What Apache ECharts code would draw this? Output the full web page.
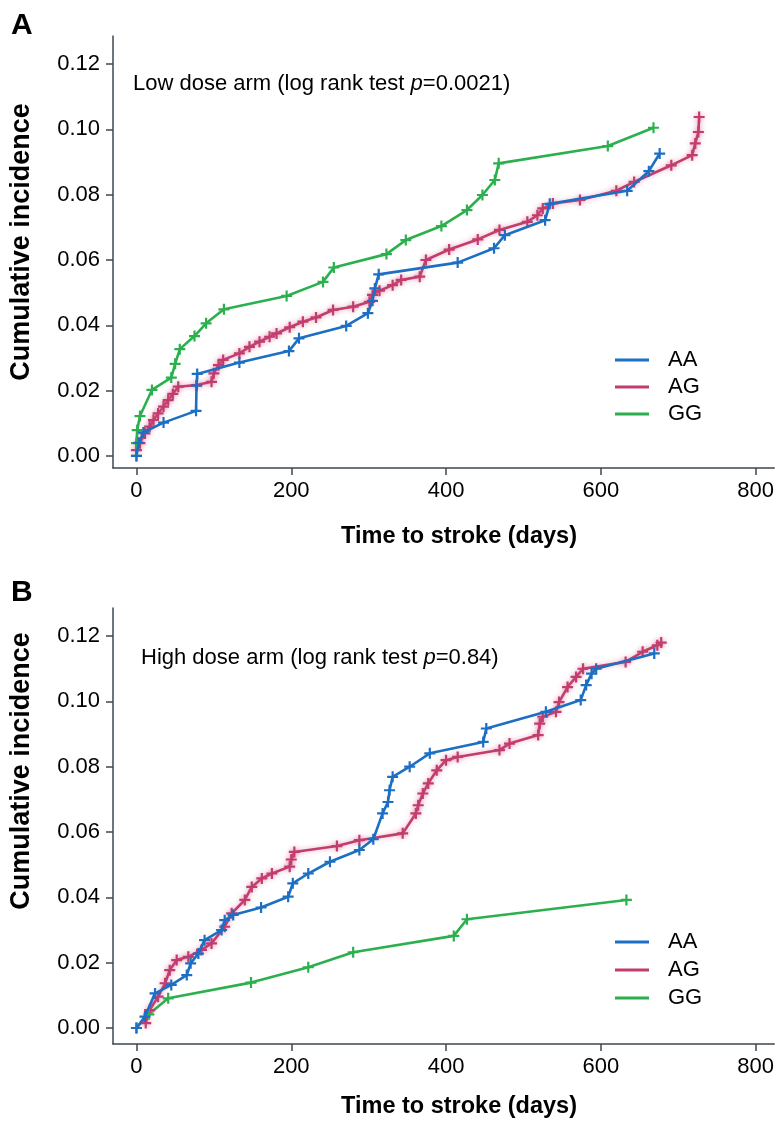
<!DOCTYPE html>
<html>
<head>
<meta charset="utf-8">
<script src="https://cdn.jsdelivr.net/npm/echarts@6.0.0/dist/echarts.min.js"></script>
<style>
html,body{margin:0;padding:0;background:#fff;}
#chart{width:777px;height:1121px;}
</style>
</head>
<body>
<div id="chart"></div>
<script>
// ---- Data (days, cumulative incidence) ----
const seriesNames = ['AA', 'AG', 'GG'];
const xTicks = [0, 200, 400, 600, 800];
const yTicks = [0, 0.02, 0.04, 0.06, 0.08, 0.10, 0.12];

const lowAA = [[0,0],[3,0.004],[9,0.0072],[35,0.0102],[77,0.0138],[77.6,0.0215],[78.5,0.0251],[133,0.0286],[197,0.0321],[210,0.036],[271,0.0398],[299,0.0437],[305,0.0475],[308,0.0513],[313,0.0556],[415,0.0592],[462,0.0636],[476,0.0676],[528,0.0722],[534,0.0772],[634,0.0812],[662,0.0872],[676,0.0926]];
const lowAG = [[0,0.0018],[4.5,0.0039],[11,0.0069],[17,0.009],[22,0.011],[28,0.013],[35,0.0151],[41,0.0171],[47,0.019],[54,0.0212],[78,0.0217],[97,0.0227],[100,0.0253],[106,0.0278],[112,0.0294],[133,0.0314],[146,0.0334],[159,0.035],[172,0.0365],[181,0.0375],[198,0.0394],[215,0.0411],[232,0.0424],[254,0.0447],[280,0.0457],[301,0.0472],[305,0.0493],[314,0.0506],[331,0.0523],[342,0.0539],[366,0.0549],[374,0.06],[404,0.0632],[441,0.0663],[469,0.0692],[505,0.0717],[518,0.0737],[525,0.0758],[538,0.0773],[573,0.0784],[620,0.0812],[643,0.0839],[691,0.089],[718,0.0921],[722,0.0957],[726,0.0992],[727,0.1038]];
const lowGG = [[0,0],[0,0.0039],[1,0.0079],[4.5,0.0122],[20,0.0202],[45,0.024],[50,0.0282],[56,0.0327],[75,0.0367],[90,0.0406],[113,0.0449],[194,0.049],[241,0.0533],[255,0.0577],[323,0.0618],[348,0.0661],[394,0.0704],[427,0.0753],[447,0.0799],[463,0.0845],[468,0.0896],[609,0.0949],[668,0.1005]];

const highAA = [[0,0],[11,0.0035],[24,0.0106],[45,0.0132],[65,0.0162],[70,0.0198],[80,0.0228],[88,0.0269],[110,0.03],[114,0.033],[125,0.0346],[161,0.0369],[196,0.0402],[202,0.0443],[222,0.0473],[250,0.0509],[288,0.0545],[306,0.0578],[318,0.0657],[325,0.0692],[327,0.0728],[331,0.0769],[353,0.08],[379,0.0841],[448,0.0876],[452,0.0917],[529,0.0968],[574,0.1004],[581,0.105],[588,0.1085],[594,0.11],[669,0.1147]];
const highAG = [[12,0.0015],[17,0.0055],[28,0.0096],[37,0.0137],[43,0.0177],[52,0.0208],[67,0.0218],[84,0.0239],[97,0.0259],[114,0.031],[123,0.0351],[140,0.0392],[149,0.0432],[162,0.0458],[175,0.0473],[198,0.0494],[200,0.0516],[204,0.0539],[259,0.0557],[288,0.0575],[344,0.0596],[361,0.0657],[364,0.0682],[370,0.0718],[377,0.0749],[388,0.0789],[400,0.082],[415,0.083],[469,0.0851],[482,0.0871],[519,0.0897],[521,0.0932],[525,0.0953],[542,0.0968],[546,0.0998],[557,0.1044],[568,0.1075],[577,0.11],[632,0.1121],[654,0.1152],[673,0.1172],[678,0.118]];
const highGG = [[0,0],[16,0.0042],[41,0.0091],[148,0.0139],[222,0.0186],[280,0.0232],[410,0.0282],[427,0.0333],[633,0.0392]];

const colors = {AA: '#1c6fc3', AG: '#c23d6f', GG: '#2cb04e'};
const FONT = '"Liberation Sans", Arial, Helvetica, sans-serif';
const axisColor = '#3e4852';
const plusPath = 'path://M4,0H6V4H10V6H6V10H4V6H0V4H4Z';

function xAxisCfg(gi) {
  return {
    type: 'value', gridIndex: gi, min: -30.3, max: 824,
    axisLine: {show: true, onZero: false, lineStyle: {color: axisColor, width: 1.5}},
    axisTick: {show: true, length: 7, customValues: xTicks, lineStyle: {color: axisColor, width: 1.5}},
    axisLabel: {customValues: xTicks, fontSize: 22, fontFamily: FONT, color: '#000', margin: 12},
    splitLine: {show: false}
  };
}
function yAxisCfg(gi, min) {
  return {
    type: 'value', gridIndex: gi, min: min, max: 0.1286,
    axisLine: {show: true, onZero: false, lineStyle: {color: axisColor, width: 1.5}},
    axisTick: {show: true, length: 7, customValues: yTicks, lineStyle: {color: axisColor, width: 1.5}},
    axisLabel: {customValues: yTicks, fontSize: 22, fontFamily: FONT, color: '#000', margin: 13,
      formatter: v => v.toFixed(2)},
    splitLine: {show: false}
  };
}
function lineSeries(name, data, gi) {
  const c = colors[name];
  const glow = name === 'AG' ? {shadowBlur: 5, shadowColor: 'rgba(214,90,130,0.5)'} : {};
  return {
    name: name, type: 'line', xAxisIndex: gi, yAxisIndex: gi, data: data,
    symbol: plusPath, symbolSize: 11, showAllSymbol: true,
    lineStyle: Object.assign({color: c, width: 2.6}, glow),
    itemStyle: Object.assign({color: c}, glow),
    emphasis: {disabled: true}, animation: false, z: name === 'AA' ? 3 : 2
  };
}
function legendCfg(top, gap) {
  return {
    data: seriesNames, orient: 'vertical', left: 615, top: top, padding: 0,
    icon: 'rect', itemWidth: 34, itemHeight: 3, itemGap: gap,
    textStyle: {fontSize: 22, fontFamily: FONT, color: '#000', padding: [0, 0, 0, 14]},
    selectedMode: false
  };
}
function annot(x, y, prefix, pval) {
  return {
    type: 'text', left: x, top: y,
    style: {
      text: '{a|' + prefix + '}{i|p}{a|=' + pval + ')}',
      rich: {
        a: {fontSize: 22, fontFamily: FONT, fill: '#000'},
        i: {fontSize: 22, fontFamily: FONT, fontStyle: 'italic', fill: '#000'}
      }
    }
  };
}

const chart = echarts.init(document.getElementById('chart'), null, {renderer: 'canvas'});
chart.setOption({
  animation: false,
  backgroundColor: '#fff',
  grid: [
    {left: 113, top: 36, width: 662, height: 432},
    {left: 113, top: 608, width: 662, height: 436}
  ],
  xAxis: [xAxisCfg(0), xAxisCfg(1)],
  yAxis: [yAxisCfg(0, -0.0037), yAxisCfg(1, -0.0049)],
  legend: [legendCfg(349, 5), legendCfg(931, 6)],
  series: [
    lineSeries('AA', lowAA, 0), lineSeries('AG', lowAG, 0), lineSeries('GG', lowGG, 0),
    lineSeries('AA', highAA, 1), lineSeries('AG', highAG, 1), lineSeries('GG', highGG, 1)
  ],
  graphic: [
    {type: 'text', left: 11, top: 11, style: {text: 'A', fontSize: 30, fontWeight: 'bold', fontFamily: FONT, fill: '#000'}},
    {type: 'text', left: 11, top: 578, style: {text: 'B', fontSize: 30, fontWeight: 'bold', fontFamily: FONT, fill: '#000'}},
    annot(133, 73, 'Low dose arm (log rank test ', '0.0021'),
    annot(141, 647, 'High dose arm (log rank test ', '0.84'),
    {type: 'text', x: 459, y: 537, style: {text: 'Time to stroke (days)', fontSize: 23.5, fontWeight: 'bold', fontFamily: FONT, fill: '#000', align: 'center', verticalAlign: 'middle'}},
    {type: 'text', x: 459, y: 1107, style: {text: 'Time to stroke (days)', fontSize: 23.5, fontWeight: 'bold', fontFamily: FONT, fill: '#000', align: 'center', verticalAlign: 'middle'}},
    {type: 'text', x: 22, y: 242, rotation: Math.PI / 2, style: {text: 'Cumulative incidence', fontSize: 27, fontWeight: 'bold', fontFamily: FONT, fill: '#000', align: 'center', verticalAlign: 'middle'}},
    {type: 'text', x: 22, y: 771, rotation: Math.PI / 2, style: {text: 'Cumulative incidence', fontSize: 27, fontWeight: 'bold', fontFamily: FONT, fill: '#000', align: 'center', verticalAlign: 'middle'}}
  ]
});
</script>
</body>
</html>
